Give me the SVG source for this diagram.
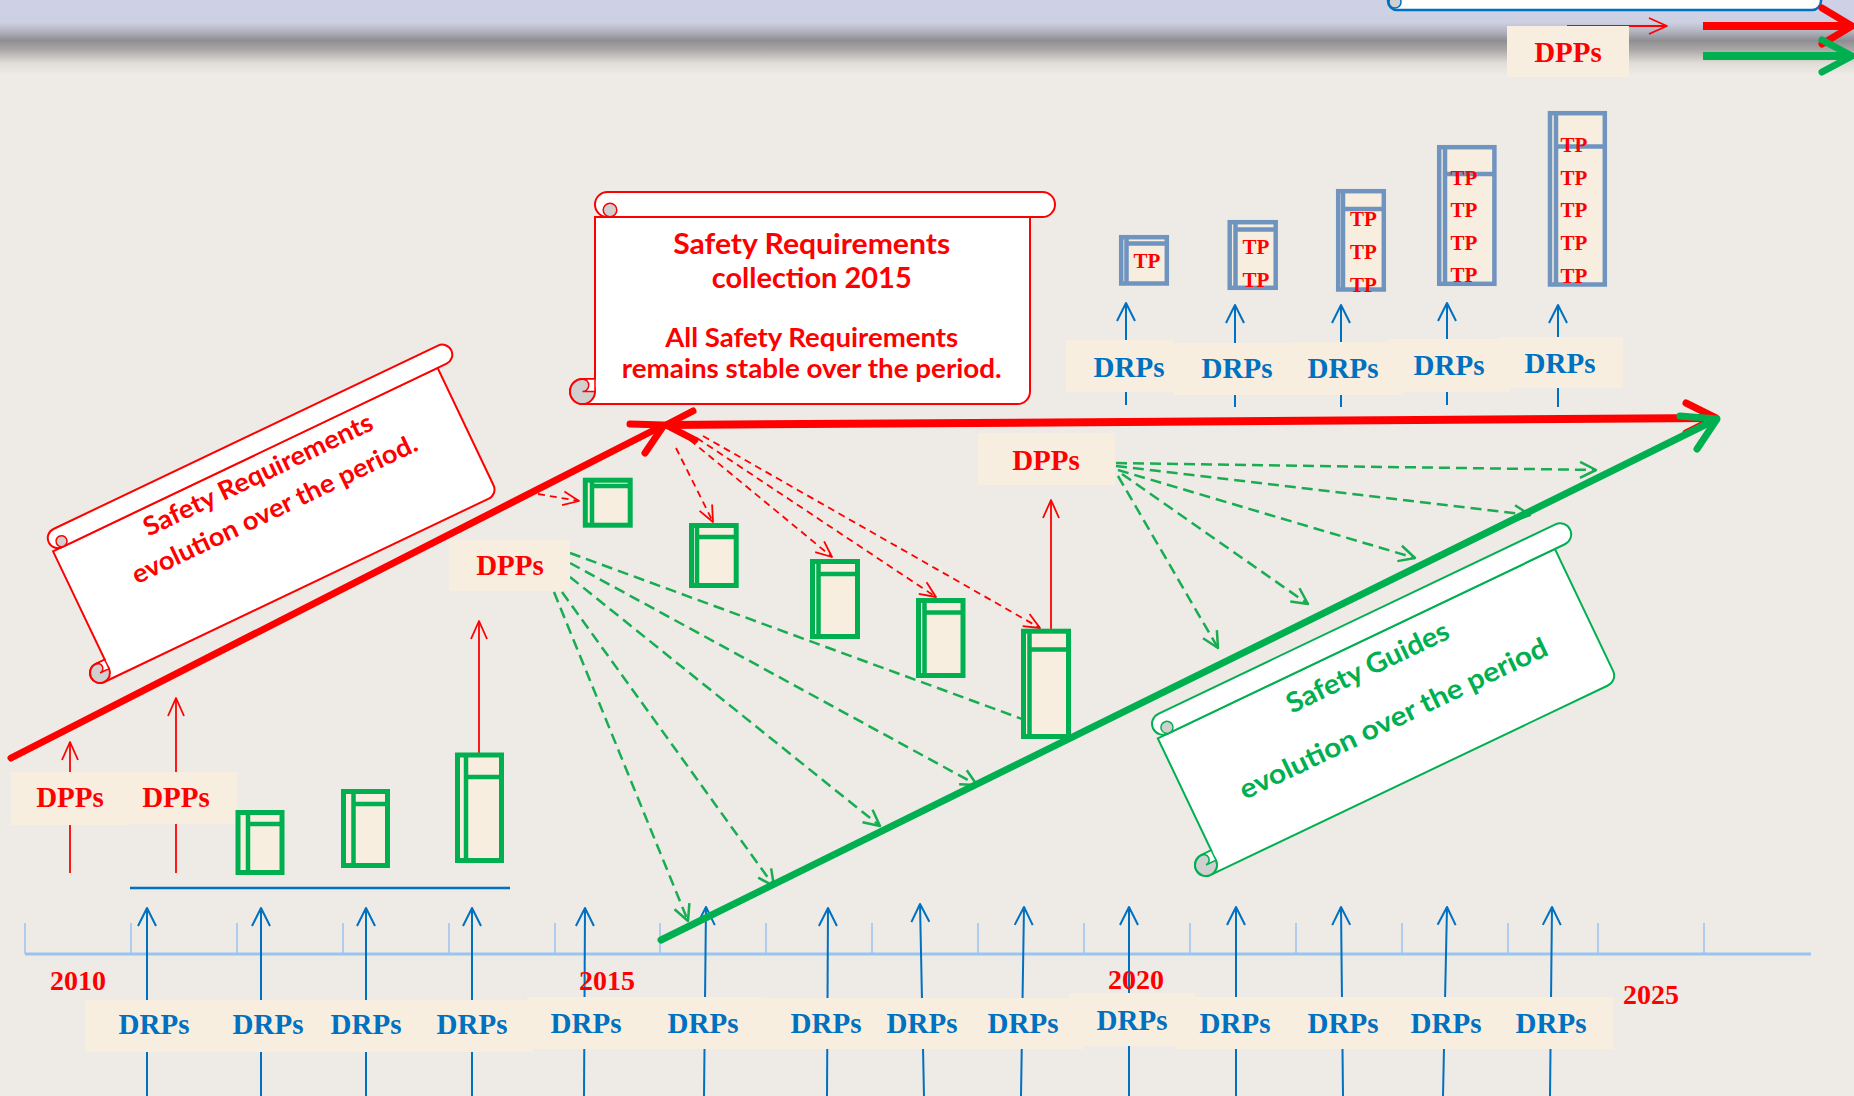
<svg xmlns="http://www.w3.org/2000/svg" width="1854" height="1096" viewBox="0 0 1854 1096">
  <defs>
    <linearGradient id="topBand" x1="0" y1="0" x2="0" y2="1">
      <stop offset="0" stop-color="#cfd2e6"/>
      <stop offset="0.3" stop-color="#cdd0e2"/>
      <stop offset="0.42" stop-color="#b2b3bf"/>
      <stop offset="0.54" stop-color="#8e8e92"/>
      <stop offset="0.66" stop-color="#a9a7a5"/>
      <stop offset="0.84" stop-color="#e0dcd8"/>
      <stop offset="1" stop-color="#eeeae6"/>
    </linearGradient>
    <marker id="mb" viewBox="-2 -2 24 24" refX="18" refY="9" markerWidth="24" markerHeight="24" markerUnits="userSpaceOnUse" orient="auto" overflow="visible">
      <path d="M0,0 L18,9 L0,18" fill="none" stroke="#0070c0" stroke-width="2" stroke-linejoin="round"/>
    </marker>
    <marker id="mr" viewBox="-2 -2 24 24" refX="18" refY="8" markerWidth="24" markerHeight="24" markerUnits="userSpaceOnUse" orient="auto" overflow="visible">
      <path d="M0,0 L18,8 L0,16" fill="none" stroke="#ff0000" stroke-width="1.8" stroke-linejoin="round"/>
    </marker>
    <marker id="mrd" viewBox="-2 -2 24 24" refX="16" refY="7" markerWidth="24" markerHeight="24" markerUnits="userSpaceOnUse" orient="auto" overflow="visible">
      <path d="M0,0 L16,7 L0,14" fill="none" stroke="#ff0000" stroke-width="1.8" stroke-linejoin="round"/>
    </marker>
    <marker id="mg" viewBox="-2 -2 24 24" refX="16" refY="8" markerWidth="24" markerHeight="24" markerUnits="userSpaceOnUse" orient="auto" overflow="visible">
      <path d="M0,0 L16,8 L0,16" fill="none" stroke="#17ad50" stroke-width="2.5" stroke-linejoin="round"/>
    </marker>
  </defs>
  <style>
    .serif{font-family:"Liberation Serif","Times New Roman",serif;font-weight:bold;text-anchor:middle}
    .drp{font-size:29px;fill:#0070c0}
    .dpp{font-size:29px;fill:#ff0000}
    .tp{font-size:21px;fill:#ff0000}
    .yr{font-size:28px;fill:#ff0000}
    .cream{fill:#f7eedf}
    .gbox{fill:#f7eedf;stroke:#00b050;stroke-width:5}
    .gin{stroke:#00b050;stroke-width:4.5;fill:none}
    .bbox{fill:#f7eedf;stroke:#7094c0;stroke-width:4.5}
    .bin{stroke:#7094c0;stroke-width:4.5;fill:none}
    .barrow{stroke:#0070c0;stroke-width:2;fill:none}
    .rarrow{stroke:#ff0000;stroke-width:1.8;fill:none}
    .rdash{stroke:#ff0000;stroke-width:1.8;stroke-dasharray:7 5;fill:none}
    .gdash{stroke:#17ad50;stroke-width:2.5;stroke-dasharray:11 6;fill:none}
    .axis{stroke:#9cc3ef;fill:none}
    .sc-r{fill:#ffffff;stroke:#ff0000;stroke-width:2}
    .sc-g{fill:#ffffff;stroke:#00b050;stroke-width:2}
    .sc-b{fill:#ffffff;stroke:#0070c0;stroke-width:2.5}
    .curl{fill:#d0d0d0}
    .sans{font-family:"Lato","Open Sans",sans-serif;font-weight:700;text-anchor:middle}
  </style>

  <!-- background -->
  <rect x="0" y="0" width="1854" height="1096" fill="#eeeae6"/>
  <rect x="0" y="0" width="1854" height="75" fill="url(#topBand)"/>

  <!-- partially visible scroll at the top edge -->
  <g id="scroll-top">
    <rect x="1388" y="-40" width="433" height="50" rx="9" class="sc-b"/>
    <circle cx="1395" cy="2" r="6" class="curl" stroke="#0070c0" stroke-width="1.5"/>
  </g>

  <g id="connectors">
    <!-- time axis -->
    <line x1="25" y1="954" x2="1811" y2="954" class="axis" stroke-width="3"/>
    <path class="axis" stroke-width="1.5" d="M25,923V954 M131,923V954 M237,923V954 M343,923V954 M449,923V954 M555,923V954 M660,923V954 M766,923V954 M872,923V954 M978,923V954 M1084,923V954 M1190,923V954 M1296,923V954 M1402,923V954 M1508,923V954 M1598,923V954 M1704,923V954"/>

    <!-- DRPs arrows, lower row -->
    <g class="barrow" marker-end="url(#mb)">
      <line x1="147" y1="1096" x2="147" y2="908"/>
      <line x1="261" y1="1096" x2="261" y2="908"/>
      <line x1="366" y1="1096" x2="366" y2="908"/>
      <line x1="472" y1="1096" x2="472" y2="908"/>
      <line x1="584" y1="1096" x2="585" y2="908"/>
      <line x1="704" y1="1096" x2="706" y2="907"/>
      <line x1="827" y1="1096" x2="828" y2="908"/>
      <line x1="924" y1="1096" x2="920" y2="904"/>
      <line x1="1021" y1="1096" x2="1024" y2="907"/>
      <line x1="1129" y1="1096" x2="1129" y2="907"/>
      <line x1="1236" y1="1096" x2="1236" y2="907"/>
      <line x1="1343" y1="1096" x2="1341" y2="907"/>
      <line x1="1443" y1="1096" x2="1447" y2="907"/>
      <line x1="1550" y1="1096" x2="1552" y2="907"/>
    </g>

    <!-- DRPs arrows, upper row -->
    <g class="barrow" marker-end="url(#mb)">
      <line x1="1126" y1="405" x2="1126" y2="303"/>
      <line x1="1235" y1="407" x2="1235" y2="305"/>
      <line x1="1341" y1="407" x2="1341" y2="305"/>
      <line x1="1447" y1="405" x2="1447" y2="303"/>
      <line x1="1558" y1="407" x2="1558" y2="305"/>
    </g>

    <!-- DPPs arrows -->
    <g class="rarrow" marker-end="url(#mr)">
      <line x1="70" y1="873" x2="70" y2="742"/>
      <line x1="176" y1="873" x2="176" y2="698"/>
      <line x1="479" y1="755" x2="479" y2="621"/>
      <line x1="1051" y1="630" x2="1051" y2="500"/>
      <line x1="1567" y1="26" x2="1667" y2="26"/>
    </g>

    <!-- requirement links to the green boxes -->
    <g class="rdash" marker-end="url(#mrd)">
      <line x1="538" y1="494" x2="579" y2="501"/>
      <line x1="676" y1="448" x2="713" y2="522"/>
      <line x1="690" y1="440" x2="832" y2="557"/>
      <line x1="697" y1="438" x2="936" y2="597"/>
      <line x1="703" y1="436" x2="1040" y2="628"/>
    </g>

    <!-- guide links from the DPPs -->
    <g class="gdash" marker-end="url(#mg)">
      <line x1="554" y1="592" x2="688" y2="921"/>
      <line x1="562" y1="592" x2="774" y2="886"/>
      <line x1="570" y1="577" x2="880" y2="826"/>
      <line x1="570" y1="563" x2="977" y2="785"/>
      <line x1="570" y1="553" x2="1063" y2="734"/>
      <line x1="1116" y1="463" x2="1596" y2="470"/>
      <line x1="1116" y1="466" x2="1530" y2="515"/>
      <line x1="1118" y1="470" x2="1415" y2="558"/>
      <line x1="1122" y1="474" x2="1308" y2="604"/>
      <line x1="1118" y1="476" x2="1218" y2="648"/>
    </g>

    <!-- baseline under the early guides -->
    <line x1="130" y1="888" x2="510" y2="888" stroke="#0070c0" stroke-width="2.5"/>

    <!-- requirements trend lines -->
    <g fill="none" stroke="#ff0000" stroke-linecap="round" stroke-linejoin="round">
      <line x1="11" y1="758" x2="662" y2="426" stroke-width="7"/>
      <polyline points="630,424 664,425 645,453" stroke-width="7"/>
      <line x1="668" y1="425" x2="1714" y2="418" stroke-width="8"/>
      <polyline points="693,411 666,425 695,440" stroke-width="7"/>
      <polyline points="1686,403 1716,418 1686,433" stroke-width="7"/>
      <line x1="1703" y1="26" x2="1850" y2="26" stroke-width="8" stroke-linecap="butt"/>
      <polyline points="1822,8 1852,26 1822,44" stroke-width="7"/>
    </g>
    <!-- guides trend lines -->
    <g fill="none" stroke="#00b050" stroke-linecap="round" stroke-linejoin="round">
      <line x1="661" y1="940" x2="1715" y2="420" stroke-width="7"/>
      <polyline points="1680,416 1717,419 1697,449" stroke-width="7"/>
      <line x1="1703" y1="56" x2="1850" y2="56" stroke-width="8" stroke-linecap="butt"/>
      <polyline points="1822,40 1852,56 1822,72" stroke-width="7"/>
    </g>
  </g>

  <!-- lower DRPs labels -->
  <g id="drps-lower">
    <rect class="cream" x="85" y="1000" width="448" height="52"/>
    <rect class="cream" x="527" y="997" width="238" height="52"/>
    <rect class="cream" x="765" y="998" width="319" height="51"/>
    <rect class="cream" x="1175" y="997" width="438" height="52"/>
    <rect class="cream" x="1069" y="993" width="126" height="53"/>
    <g class="serif drp">
      <text x="154" y="1034">DRPs</text>
      <text x="268" y="1034">DRPs</text>
      <text x="366" y="1034">DRPs</text>
      <text x="472" y="1034">DRPs</text>
      <text x="586" y="1033">DRPs</text>
      <text x="703" y="1033">DRPs</text>
      <text x="826" y="1033">DRPs</text>
      <text x="922" y="1033">DRPs</text>
      <text x="1023" y="1033">DRPs</text>
      <text x="1132" y="1030">DRPs</text>
      <text x="1235" y="1033">DRPs</text>
      <text x="1343" y="1033">DRPs</text>
      <text x="1446" y="1033">DRPs</text>
      <text x="1551" y="1033">DRPs</text>
    </g>
  </g>

  <!-- years -->
  <g id="years" class="serif yr">
    <text x="78" y="990">2010</text>
    <text x="607" y="990">2015</text>
    <text x="1136" y="989">2020</text>
    <text x="1651" y="1004">2025</text>
  </g>

  <!-- upper DRPs labels -->
  <g id="drps-upper">
    <rect class="cream" x="1066" y="340" width="108" height="52"/>
    <rect class="cream" x="1174" y="343" width="120" height="52"/>
    <rect class="cream" x="1294" y="342" width="110" height="53"/>
    <rect class="cream" x="1388" y="339" width="122" height="53"/>
    <rect class="cream" x="1498" y="337" width="125" height="51"/>
    <g class="serif drp">
      <text x="1129" y="377">DRPs</text>
      <text x="1237" y="378">DRPs</text>
      <text x="1343" y="378">DRPs</text>
      <text x="1449" y="375">DRPs</text>
      <text x="1560" y="373">DRPs</text>
    </g>
  </g>

  <!-- DPPs labels -->
  <g id="dpps-2010">
    <rect class="cream" x="11" y="772" width="119" height="53"/>
    <text class="serif dpp" x="70" y="807">DPPs</text>
  </g>
  <g id="dpps-2011">
    <rect class="cream" x="116" y="772" width="121" height="52"/>
    <text class="serif dpp" x="176" y="807">DPPs</text>
  </g>
  <g id="dpps-2014">
    <rect class="cream" x="449" y="540" width="121" height="51"/>
    <text class="serif dpp" x="510" y="575">DPPs</text>
  </g>
  <g id="dpps-2019">
    <rect class="cream" x="978" y="433" width="137" height="52"/>
    <text class="serif dpp" x="1046" y="470">DPPs</text>
  </g>
  <g id="dpps-top">
    <rect class="cream" x="1507" y="26" width="122" height="51"/>
    <text class="serif dpp" x="1568" y="62">DPPs</text>
  </g>

  <!-- green guide boxes -->
  <g id="guide-1"><rect class="gbox" x="238" y="812.5" width="44" height="60"/><path class="gin" d="M248,812.5V872.5 M248,824H282"/></g>
  <g id="guide-2"><rect class="gbox" x="343.5" y="791.5" width="44" height="74"/><path class="gin" d="M353.5,791.5V865.5 M353.5,804H387.5"/></g>
  <g id="guide-3"><rect class="gbox" x="457.5" y="755" width="44" height="105.5"/><path class="gin" d="M466,755V860.5 M466,777H501.5"/></g>
  <g id="guide-4"><rect class="gbox" x="585.3" y="480.2" width="44.9" height="45"/><path class="gin" d="M592,480.2V525.2 M592,486H630.2"/></g>
  <g id="guide-5"><rect class="gbox" x="691.5" y="525.5" width="44.7" height="60"/><path class="gin" d="M697,525.5V585.5 M697,537H736.2"/></g>
  <g id="guide-6"><rect class="gbox" x="812.5" y="561.5" width="45" height="75"/><path class="gin" d="M818.5,561.5V636.5 M818.5,574H857.5"/></g>
  <g id="guide-7"><rect class="gbox" x="918.5" y="600.5" width="44.5" height="75"/><path class="gin" d="M924.5,600.5V675.5 M924.5,612.5H963"/></g>
  <g id="guide-8"><rect class="gbox" x="1023.5" y="631.2" width="45" height="105.3"/><path class="gin" d="M1029.5,631.2V736.5 M1029.5,649.5H1068.5"/></g>

  <!-- blue TP boxes -->
  <g id="tp-1">
    <rect class="bbox" x="1121.2" y="237.2" width="45.6" height="46.3"/>
    <path class="bin" d="M1126.5,237.2V283.5 M1126.5,243.5H1166.8"/>
    <text class="serif tp" x="1147" y="268">TP</text>
  </g>
  <g id="tp-2">
    <rect class="bbox" x="1229.7" y="222.2" width="46" height="65.6"/>
    <path class="bin" d="M1235.5,222.2V287.8 M1235.5,229.5H1275.7"/>
    <text class="serif tp" x="1256" y="254">TP</text>
    <text class="serif tp" x="1256" y="287">TP</text>
  </g>
  <g id="tp-3">
    <rect class="bbox" x="1338.2" y="191.2" width="45.6" height="98.3"/>
    <path class="bin" d="M1343,191.2V289.5 M1343,209H1383.8"/>
    <text class="serif tp" x="1363.5" y="226">TP</text>
    <text class="serif tp" x="1363.5" y="259">TP</text>
    <text class="serif tp" x="1363.5" y="292">TP</text>
  </g>
  <g id="tp-4">
    <rect class="bbox" x="1439.2" y="147.2" width="55.2" height="136.6"/>
    <path class="bin" d="M1445,147.2V283.8 M1445,174H1494.4"/>
    <text class="serif tp" x="1464" y="185">TP</text>
    <text class="serif tp" x="1464" y="217">TP</text>
    <text class="serif tp" x="1464" y="250">TP</text>
    <text class="serif tp" x="1464" y="282">TP</text>
  </g>
  <g id="tp-5">
    <rect class="bbox" x="1550" y="113.2" width="54.8" height="171.3"/>
    <path class="bin" d="M1556,113.2V284.5 M1556,146.5H1604.8"/>
    <text class="serif tp" x="1574" y="152">TP</text>
    <text class="serif tp" x="1574" y="185">TP</text>
    <text class="serif tp" x="1574" y="217">TP</text>
    <text class="serif tp" x="1574" y="250">TP</text>
    <text class="serif tp" x="1574" y="283">TP</text>
  </g>

  <!-- scroll: requirements evolution -->
  <g id="scroll-requirements" transform="translate(26.4,541.9) rotate(-25.5)">
    <path class="sc-r" d="M20,20 L446,20 L446,150 A10,10 0 0 1 436,160 L10,160 A10,10 0 0 1 10,140 L20,140 Z"/>
    <rect class="sc-r" x="20" y="0" width="446" height="20" rx="10"/>
    <circle class="curl" cx="32" cy="14.5" r="5.5" stroke="#ff0000" stroke-width="1.5"/>
    <circle class="curl" cx="10" cy="150" r="10" stroke="#ff0000" stroke-width="2"/>
    <path d="M10,140 A5,5 0 0 1 10,150 L20,150 L20,140 Z" fill="#ffffff" stroke="#ff0000" stroke-width="1.5"/>
    <text class="sans" x="238" y="48" font-size="26" fill="#ff0000" textLength="251" lengthAdjust="spacingAndGlyphs">Safety Requirements</text>
    <text class="sans" x="238" y="86" font-size="26" fill="#ff0000" textLength="313" lengthAdjust="spacingAndGlyphs">evolution over the period.</text>
  </g>

  <!-- scroll: requirements collection 2015 -->
  <g id="scroll-2015" transform="translate(570,192)">
    <path class="sc-r" d="M25,25 L460,25 L460,199.5 A12.5,12.5 0 0 1 447.5,212 L12.5,212 A12.5,12.5 0 0 1 12.5,187 L25,187 Z"/>
    <rect class="sc-r" x="25" y="0" width="460" height="25" rx="12.5"/>
    <circle class="curl" cx="40" cy="18" r="6.8" stroke="#ff0000" stroke-width="1.5"/>
    <circle class="curl" cx="12.5" cy="199.5" r="12.5" stroke="#ff0000" stroke-width="2"/>
    <path d="M12.5,187 A6.25,6.25 0 0 1 12.5,199.5 L25,199.5 L25,187 Z" fill="#ffffff" stroke="#ff0000" stroke-width="1.5"/>
    <text class="sans" x="241.7" y="62" font-size="28.5" fill="#ff0000" textLength="277" lengthAdjust="spacingAndGlyphs">Safety Requirements</text>
    <text class="sans" x="241.7" y="96" font-size="28.5" fill="#ff0000" textLength="200" lengthAdjust="spacingAndGlyphs">collection 2015</text>
    <text class="sans" x="241.7" y="154.7" font-size="26" fill="#ff0000" textLength="293" lengthAdjust="spacingAndGlyphs">All Safety Requirements</text>
    <text class="sans" x="241.7" y="186.3" font-size="26" fill="#ff0000" textLength="380" lengthAdjust="spacingAndGlyphs">remains stable over the period.</text>
  </g>

  <!-- scroll: guides evolution -->
  <g id="scroll-guides" transform="translate(1128.5,728) rotate(-25.5)">
    <path class="sc-g" d="M22,22 L462,22 L462,157 A11,11 0 0 1 451,168 L11,168 A11,11 0 0 1 11,146 L22,146 Z"/>
    <rect class="sc-g" x="22" y="0" width="462" height="22" rx="11"/>
    <circle class="curl" cx="35" cy="16" r="6" stroke="#00b050" stroke-width="1.5"/>
    <circle class="curl" cx="11" cy="157" r="11" stroke="#00b050" stroke-width="2"/>
    <path d="M11,146 A5.5,5.5 0 0 1 11,157 L22,157 L22,146 Z" fill="#ffffff" stroke="#00b050" stroke-width="1.5"/>
    <text class="sans" x="242" y="57.5" font-size="27.5" fill="#00b050" textLength="177" lengthAdjust="spacingAndGlyphs">Safety Guides</text>
    <text class="sans" x="243" y="115" font-size="27.5" fill="#00b050" textLength="338" lengthAdjust="spacingAndGlyphs">evolution over the period</text>
  </g>
</svg>
